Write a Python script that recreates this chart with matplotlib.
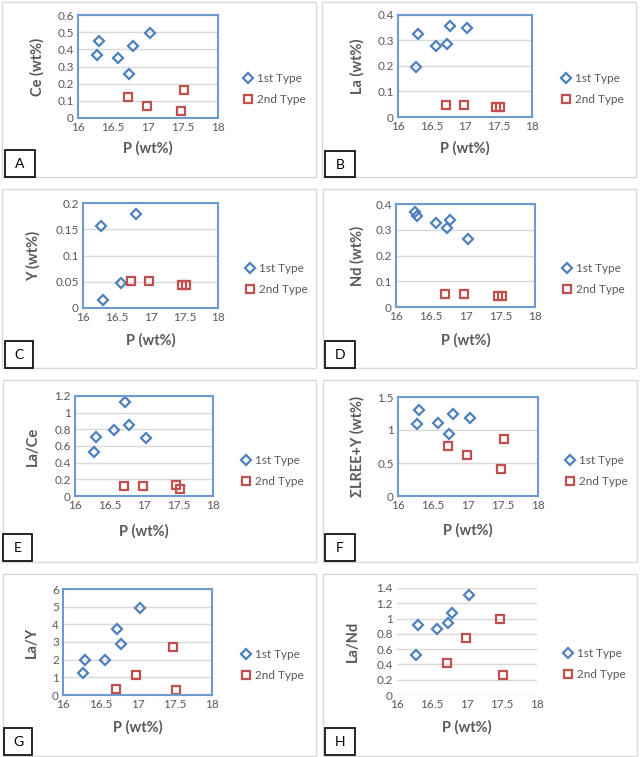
import numpy as np
import matplotlib
matplotlib.use('Agg')
from matplotlib import pyplot as plt, patches
from matplotlib.ticker import FuncFormatter

plt.rcParams['font.family'] = ['Lato', 'DejaVu Sans']

# P (wt%) for the two mineral types
p_1st = [16.27, 16.30, 16.57, 16.73, 16.78, 17.03]
p_2nd = [16.71, 16.98, 17.47, 17.52]

ce_1st = [0.366, 0.451, 0.348, 0.255, 0.418, 0.494]
ce_2nd = [0.120, 0.068, 0.043, 0.161]

la_1st = [0.195, 0.325, 0.279, 0.288, 0.357, 0.349]
la_2nd = [0.047, 0.047, 0.040, 0.040]

p_1st_y = [16.27, 16.30, 16.57, 16.78]
y_1st = [0.157, 0.016, 0.048, 0.180]
y_2nd = [0.051, 0.051, 0.043, 0.043]

nd_1st = [0.370, 0.354, 0.325, 0.308, 0.337, 0.266]
nd_2nd = [0.052, 0.052, 0.044, 0.044]

lace_1st = [0.526, 0.713, 0.797, 1.124, 0.849, 0.700]
lace_2nd = [0.12, 0.12, 0.135, 0.08]

lree_1st = [1.09, 1.30, 1.10, 0.934, 1.237, 1.187]
lree_2nd = [0.758, 0.616, 0.414, 0.869]

lay_1st = [1.245, 1.98, 1.98, 3.72, 2.87, 4.94]
lay_2nd = [0.34, 1.11, 2.72, 0.28]

land_1st = [0.525, 0.919, 0.862, 0.936, 1.067, 1.312]
land_2nd = [0.424, 0.744, 0.993, 0.262]

ylabels = ['Ce (wt%)', 'La (wt%)', 'Y (wt%)', 'Nd (wt%)', 'La/Ce',
           '\u03a3LREE+Y (wt%)', 'La/Y', 'La/Nd']
letters = ['A', 'B', 'C', 'D', 'E', 'F', 'G', 'H']

series = [
    (p_1st, ce_1st, p_2nd, ce_2nd),
    (p_1st, la_1st, p_2nd, la_2nd),
    (p_1st_y, y_1st, p_2nd, y_2nd),
    (p_1st, nd_1st, p_2nd, nd_2nd),
    (p_1st, lace_1st, p_2nd, lace_2nd),
    (p_1st, lree_1st, p_2nd, lree_2nd),
    (p_1st, lay_1st, p_2nd, lay_2nd),
    (p_1st, land_1st, p_2nd, land_2nd),
]
ymax = [0.6, 0.4, 0.2, 0.4, 1.2, 1.5, 6, 1.4]
ystep = [0.1, 0.1, 0.05, 0.1, 0.2, 0.5, 1, 0.2]

# layout in pixels (x0, y0, x1, y1), origin top-left
W, H = 641, 757
outer = [(2, 2, 316, 177), (322, 2, 636, 177),
         (2, 189, 316, 368), (323, 189, 636, 368),
         (3, 380, 316, 562), (323, 380, 637, 562),
         (3, 574, 316, 756), (323, 574, 637, 756)]
plot_area = [(78, 15, 218, 118), (398, 15, 532, 117),
             (83, 203, 218, 308), (396, 204, 535, 307),
             (75, 396, 213, 496), (398, 397, 538, 496),
             (63, 589, 212, 695), (397, 588, 537, 695)]
ylab_x = [37, 357, 33, 357, 33, 357, 32, 353]
xlab_y = [148, 148, 340, 340, 531, 530, 727, 727]
leg_xy = [(248, 89), (566, 89), (250, 279), (567, 279),
          (246, 471), (570, 471), (246, 665), (568, 664)]
letter_box = [(5, 150, 35, 177), (325, 151, 355, 177),
              (5, 341, 33, 368), (325, 341, 355, 368),
              (3, 534, 32, 561), (325, 534, 355, 561),
              (4, 728, 32, 755), (325, 728, 355, 755)]

blue = '#4F81BD'
red = '#C0504D'
border = '#6C9AD2'
grey = '#595959'


def fx(x):
    return x / W


def fy(y):
    return 1 - y / H


fig = plt.figure(figsize=(W / 100, H / 100), dpi=100)

for i in range(8):
    x0, y0, x1, y1 = outer[i]
    fig.patches.append(patches.Rectangle((fx(x0), fy(y1)), (x1 - x0) / W, (y1 - y0) / H,
                                         transform=fig.transFigure, fill=False,
                                         ec='#D9D9D9', lw=1))

    x0, y0, x1, y1 = plot_area[i]
    ax = fig.add_axes([fx(x0), fy(y1), (x1 - x0) / W, (y1 - y0) / H])
    px1, v1, px2, v2 = series[i]
    l1, = ax.plot(px1, v1, linestyle='none', marker='D', ms=5.5, mfc='none',
                  mec=blue, mew=1.6, label='1st Type', clip_on=False)
    l2, = ax.plot(px2, v2, linestyle='none', marker='s', ms=6.3, mfc='none',
                  mec=red, mew=1.6, label='2nd Type', clip_on=False)
    ax.set_xlim(16, 18)
    ax.set_ylim(0, ymax[i])
    ax.set_xticks(np.arange(16, 18.01, 0.5))
    ax.set_yticks(np.arange(0, ymax[i] + 1e-9, ystep[i]))
    fmt = FuncFormatter(lambda v, pos: ('%.2f' % v).rstrip('0').rstrip('.'))
    ax.xaxis.set_major_formatter(fmt)
    ax.yaxis.set_major_formatter(fmt)
    ax.tick_params(length=0, labelsize=8.5, labelcolor=grey, pad=3)
    ax.yaxis.grid(True, color='#D9D9D9', lw=1)
    ax.set_axisbelow(True)
    for s in ax.spines.values():
        if i == 7:
            s.set_visible(False)
        else:
            s.set_color(border)
            s.set_linewidth(1.5)

    cy = (y0 + y1) / 2
    cx = (x0 + x1) / 2
    fig.text(fx(ylab_x[i]), fy(cy), ylabels[i], rotation=90, ha='center', va='center',
             fontsize=10.5, fontweight='bold', color=grey)
    fig.text(fx(cx), fy(xlab_y[i]), 'P (wt%)', ha='center', va='center',
             fontsize=10.5, fontweight='bold', color=grey)

    lx, ly = leg_xy[i]
    ax.legend(handles=[l1, l2], loc='center left',
              bbox_to_anchor=(fx(lx - 6), fy(ly)), bbox_transform=fig.transFigure,
              frameon=False, borderpad=0, borderaxespad=0, handlelength=1.0,
              handletextpad=0.3, labelspacing=0.9, fontsize=8.5, labelcolor=grey)

    bx0, by0, bx1, by1 = letter_box[i]
    fig.patches.append(patches.Rectangle((fx(bx0), fy(by1)), (bx1 - bx0) / W, (by1 - by0) / H,
                                         transform=fig.transFigure, fc='white',
                                         ec='black', lw=1.2))
    fig.text(fx((bx0 + bx1) / 2), fy((by0 + by1) / 2 + 1), letters[i],
             ha='center', va='center', fontsize=10, color='black')

fig.savefig('out.png', dpi=100)
